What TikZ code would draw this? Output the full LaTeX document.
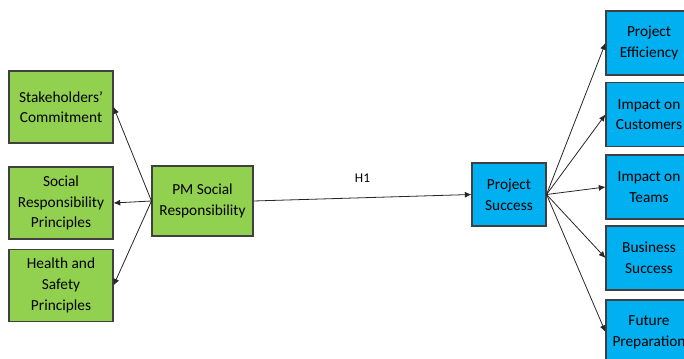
\documentclass[tikz,border=0pt]{standalone}
\usepackage{fontspec}
\setmainfont{Carlito}
\usetikzlibrary{arrows.meta}

\definecolor{causegreen}{HTML}{92D050}
\definecolor{effectblue}{HTML}{00B0F0}
\definecolor{boxline}{HTML}{404040}

\begin{document}
\begin{tikzpicture}[x=0.75pt, y=-0.75pt,
  box/.style={draw=boxline, line width=0.8pt, align=center, inner sep=0pt,
    font=\fontsize{11.5}{15.5}\selectfont},
  green box/.style={box, fill=causegreen},
  blue box/.style={box, fill=effectblue},
  link/.style={-{Latex[length=5pt,width=4.5pt]}, line width=0.6pt, draw=black!85}]
  \useasboundingbox (0,0) rectangle (684,359);

  \node[green box, minimum width=78pt, minimum height=54pt] (SC) at (61,107)   {Stakeholders’\\Commitment};
  \node[green box, minimum width=78pt, minimum height=54pt] (SRP) at (61,203)  {Social\\Responsibility\\Principles};
  \node[green box, minimum width=78pt, minimum height=54pt] (HSP) at (61,285.5) {Health and\\Safety\\Principles};
  \node[green box, minimum width=75.75pt, minimum height=52.5pt] (PMSR) at (202.5,201) {PM Social\\Responsibility};

  \node[blue box, minimum width=55.5pt, minimum height=47.25pt] (PS) at (509,194.5) {Project\\Success};
  \node[blue box, minimum width=64.5pt, minimum height=48pt] (PE) at (649,43)    {Project\\Efficiency};
  \node[blue box, minimum width=64.5pt, minimum height=48pt] (IC) at (649,114.5) {Impact on\\Customers};
  \node[blue box, minimum width=64.5pt, minimum height=48pt] (IT) at (649,187)   {Impact on\\Teams};
  \node[blue box, minimum width=64.5pt, minimum height=48pt] (BS) at (649,258)   {Business\\Success};
  \node[blue box, minimum width=64.5pt, minimum height=48pt] (FP) at (649,332)   {Future\\Preparation};

  \draw[link] (PMSR.west) -- (SC.east);
  \draw[link] (PMSR.west) -- (SRP.east);
  \draw[link] (PMSR.west) -- (HSP.east);
  \draw[link] (PMSR.east) -- node[above=8pt, font=\fontsize{10}{12}\selectfont] {H1} (PS.west);

  \draw[link] (PS.east) -- (PE.west);
  \draw[link] (PS.east) -- (IC.west);
  \draw[link] (PS.east) -- (IT.west);
  \draw[link] (PS.east) -- (BS.west);
  \draw[link] (PS.east) -- (FP.west);
\end{tikzpicture}
\end{document}
